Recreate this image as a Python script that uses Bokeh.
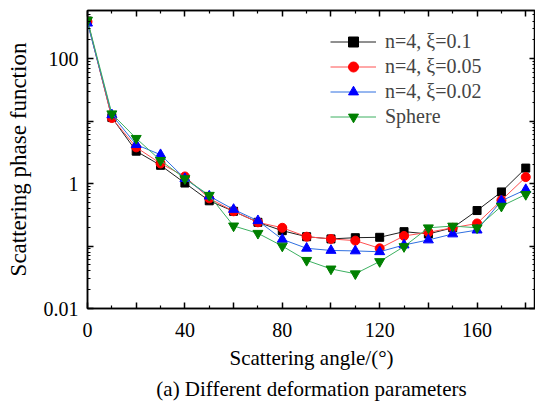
from bokeh.plotting import figure
from bokeh.models import (LinearAxis, LogAxis, FixedTicker, Legend, LegendItem,
                          Title, Range1d, CustomJSTickFormatter)
from bokeh.embed import file_html
from bokeh.resources import INLINE

angles = [0, 10, 20, 30, 40, 50, 60, 70, 80, 90, 100, 110, 120, 130, 140, 150, 160, 170, 180]
xi_010 = [400, 11.4, 3.3, 1.96, 1.02, 0.53, 0.36, 0.24, 0.176, 0.141, 0.13, 0.136, 0.138,
          0.17, 0.156, 0.196, 0.37, 0.735, 1.77]
xi_005 = [390, 11.2, 3.8, 2.1, 1.3, 0.58, 0.36, 0.24, 0.196, 0.141, 0.13, 0.122, 0.092,
          0.145, 0.166, 0.196, 0.23, 0.54, 1.27]
xi_002 = [370, 12.6, 4.2, 2.9, 1.2, 0.63, 0.385, 0.254, 0.128, 0.092, 0.085, 0.0835, 0.081,
          0.104, 0.125, 0.156, 0.18, 0.53, 0.80]
sphere = [413, 13.1, 5.3, 2.35, 1.2, 0.65, 0.21, 0.16, 0.10, 0.059, 0.043, 0.036, 0.0565,
          0.098, 0.196, 0.209, 0.196, 0.435, 0.67]

series_labels = ["n=4, \u03be=0.1", "n=4, \u03be=0.05", "n=4, \u03be=0.02", "Sphere"]

x_major = [0, 20, 40, 60, 80, 100, 120, 140, 160, 180]
x_minor = [10, 30, 50, 70, 90, 110, 130, 150, 170]
y_major = [0.01, 0.1, 1, 10, 100]
y_minor = [k * 10.0 ** e for e in (-2, -1, 0, 1, 2) for k in range(2, 10)]

FONT = "Liberation Serif"

x_fmt = CustomJSTickFormatter(code="return (tick % 40 === 0) ? String(tick) : '';")
y_fmt = CustomJSTickFormatter(code="""
const e = Math.round(Math.log10(tick));
if (e === -2) return '0.01';
if (e === 0) return '1';
if (e === 2) return '100';
return '';
""")
blank_fmt = CustomJSTickFormatter(code="return '';")

p = figure(width=535, height=402, y_axis_type="log", output_backend="svg",
           toolbar_location=None, x_range=Range1d(0, 184), y_range=Range1d(0.01, 590),
           min_border_left=87, min_border_right=0, min_border_top=10, min_border_bottom=0)
p.background_fill_color = "white"
p.border_fill_color = "white"
p.xgrid.visible = False
p.ygrid.visible = False
p.outline_line_color = "black"
p.outline_line_width = 1.5

def style_axis(ax, ticks, minor, fmt):
    ax.ticker = FixedTicker(ticks=ticks, minor_ticks=minor)
    ax.formatter = fmt
    ax.major_tick_in = 6
    ax.major_tick_out = 0
    ax.minor_tick_in = 3
    ax.minor_tick_out = 0
    ax.axis_line_color = "black"
    ax.axis_line_width = 1.5
    ax.major_tick_line_width = 1.5
    ax.minor_tick_line_width = 1.2
    ax.major_label_text_font = FONT
    ax.major_label_text_font_size = "20px"
    ax.major_label_text_color = "black"
    ax.axis_label_text_font = FONT
    ax.axis_label_text_font_size = "21px"
    ax.axis_label_text_font_style = "normal"
    ax.axis_label_text_color = "black"

xa = p.xaxis[0]
style_axis(xa, x_major, x_minor, x_fmt)
xa.major_label_standoff = 14
xa.axis_label = "Scattering angle/(\u00b0)"
xa.axis_label_standoff = 6

ya = p.yaxis[0]
style_axis(ya, y_major, y_minor, y_fmt)
ya.major_label_standoff = 9
ya.axis_label = "Scattering phase function"
ya.axis_label_text_font_size = "23px"
ya.axis_label_standoff = 10

top = LinearAxis()
style_axis(top, x_major, x_minor, blank_fmt)
top.major_label_standoff = 0
top.axis_label_standoff = 0
top.major_label_text_font_size = "1px"
p.add_layout(top, "above")
right = LogAxis()
style_axis(right, y_major, y_minor, blank_fmt)
right.major_label_standoff = 0
right.axis_label_standoff = 0
right.major_label_text_font_size = "1px"
p.add_layout(right, "right")

cap = Title(text="(a) Different deformation parameters", align="center",
            text_font=FONT, text_font_size="21px", text_font_style="normal",
            text_color="black", standoff=4)
p.add_layout(cap, "below")

styles = [
    (xi_010, "#202020", "black", "square", 8),
    (xi_005, "#ff5050", "red", "circle", 9),
    (xi_002, "#2f6fe0", "blue", "triangle", 10),
    (sphere, "#3cb060", "green", "inverted_triangle", 10),
]
items = []
for (vals, lc, mc, marker, sz), lab in zip(styles, series_labels):
    r1 = p.line(angles, vals, line_color=lc, line_width=1)
    r2 = p.scatter(angles, vals, marker=marker, size=sz, fill_color=mc, line_color=mc)
    items.append(LegendItem(label=lab, renderers=[r1, r2]))

leg = Legend(items=items, location=(243, 179), padding=0, margin=0, spacing=0,
             glyph_width=46, glyph_height=25, label_height=25, label_standoff=9,
             label_text_font=FONT, label_text_font_size="20px",
             border_line_alpha=0, background_fill_alpha=0)
p.add_layout(leg, "center")

open("out.html", "w").write(file_html(p, INLINE))
